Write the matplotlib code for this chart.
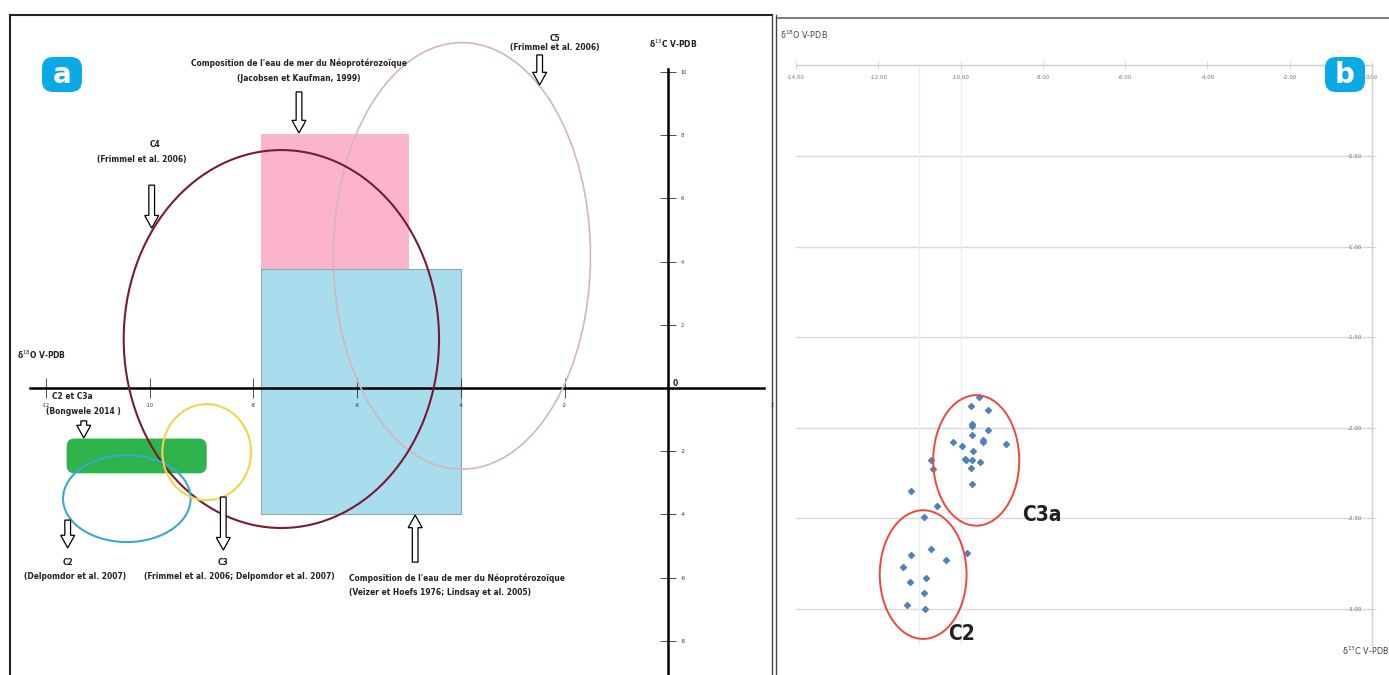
import matplotlib
matplotlib.use("Agg")
import matplotlib.pyplot as plt
from matplotlib.patches import Ellipse, Rectangle, FancyBboxPatch, FancyArrow
from matplotlib.lines import Line2D

plt.rcParams['font.family'] = ['DejaVu Sans']
plt.rcParams['font.stretch'] = 'condensed'

# ---- panel a : fields (delta18O, delta13C) ----
xticks_a = [-12, -10, -8, -6, -4, -2, 2]
yticks_a = [10, 8, 6, 4, 2, -2, -4, -6, -8]

# rectangles: x0, x1, y0, y1
seawater_jk = (-7.85, -5.0, 3.77, 8.05)   # Jacobsen et Kaufman 1999
seawater_vh = (-7.85, -4.0, -4.0, 3.77)   # Veizer et Hoefs 1976; Lindsay et al. 2005
bongwele = (-11.6, -8.9, -2.7, -1.6)      # C2 et C3a (Bongwele 2014)

# ellipses: centre x, centre y, width, height
c4 = (-7.46, 1.55, 6.08, 11.96)
c5 = (-3.98, 4.18, 4.96, 13.5)
c3 = (-8.9, -2.03, 1.71, 3.04)
c2 = (-10.44, -3.5, 2.46, 2.75)

# ---- panel b : samples ----
d18o = [-9.55, -9.75, -9.33, -9.73, -9.73, -9.34, -9.73, -9.46, -9.46, -10.19,
        -8.89, -9.96, -9.69, -9.89, -9.87, -9.72, -9.53, -10.72, -10.68, -9.75,
        -9.73, -11.21, -10.58, -10.88, -10.73, -11.21, -9.84, -10.36, -11.41,
        -11.23, -10.85, -10.88, -11.30, -10.87]
d13c = [-1.83, -1.88, -1.90, -1.98, -1.99, -2.01, -2.04, -2.07, -2.08, -2.08,
        -2.09, -2.10, -2.13, -2.17, -2.18, -2.18, -2.19, -2.18, -2.23, -2.22,
        -2.31, -2.35, -2.43, -2.49, -2.67, -2.70, -2.69, -2.73, -2.77,
        -2.85, -2.83, -2.91, -2.98, -3.00]
xticks_b = [-14, -12, -10, -8, -6, -4, -2, 0]
yticks_b = [-0.5, -1.0, -1.5, -2.0, -2.5, -3.0]
c3a_circle = (-9.62, -2.18, 2.09, 0.72)
c2_circle = (-10.91, -2.81, 2.11, 0.71)

W, H = 1389, 675
fig = plt.figure(figsize=(W / 100, H / 100), dpi=100)


def fx(px):
    return px / W


def fy(py):
    return 1 - py / H


# panel a axes : pixel = 670 + 52*x ; pixel = 388 - 31.6*y
ax = fig.add_axes([fx(10), 0, fx(772) - fx(10), fy(15)])
ax.set_xlim((10 - 670) / 52, (772 - 670) / 52)
ax.set_ylim(-(675 - 388) / 31.6, (388 - 15) / 31.6)
ax.patch.set_alpha(0)
for s in ['top', 'left']:
    ax.spines[s].set_visible(False)
ax.spines['bottom'].set_position(('data', 0))
ax.spines['bottom'].set_bounds(-12.3, 1.85)
ax.spines['bottom'].set_linewidth(1.8)
ax.spines['right'].set_position(('data', 0))
ax.spines['right'].set_bounds(-9.2, 10.1)
ax.spines['right'].set_linewidth(1.8)
ax.yaxis.tick_right()
ax.set_xticks(xticks_a)
ax.set_xticklabels([str(v) for v in xticks_a])
ax.set_yticks(yticks_a)
ax.set_yticklabels([str(v) for v in yticks_a])
ax.tick_params(axis='x', direction='inout', length=14, width=0.6, labelsize=4, pad=4, colors='#333333')
ax.tick_params(axis='y', direction='inout', length=12, width=0.6, labelsize=4, pad=3, colors='#333333')

x0, x1, y0, y1 = seawater_jk
ax.add_patch(Rectangle((x0, y0), x1 - x0, y1 - y0, fc='#fbb4cb', ec='none', zorder=1))
x0, x1, y0, y1 = seawater_vh
ax.add_patch(Rectangle((x0, y0), x1 - x0, y1 - y0, fc='#a7dded', ec='#8fa8b0', lw=0.8, zorder=1))
x0, x1, y0, y1 = bongwele
ax.add_patch(FancyBboxPatch((x0, y0), x1 - x0, y1 - y0,
                            boxstyle='round,pad=0,rounding_size=0.15',
                            mutation_aspect=1.65, fc='#2eb34d', ec='none', zorder=2))

for (cx, cy, w, h), col, lw in [(c5, '#d6b4bb', 1.2), (c4, '#7a1a33', 1.5),
                                (c2, '#38aad0', 1.5), (c3, '#f0d64e', 1.5)]:
    ax.add_patch(Ellipse((cx, cy), w, h, fill=False, ec=col, lw=lw, zorder=3))

# hollow arrows (x, y_start, y_end)
arrows = [(-2.48, 10.54, 9.59), (-7.12, 9.37, 8.07), (-9.96, 6.42, 5.06),
          (-11.27, -1.04, -1.58), (-11.58, -4.18, -5.06), (-8.58, -3.45, -5.13),
          (-4.88, -5.51, -4.02)]
for x, ys, ye in arrows:
    ax.add_patch(FancyArrow(x, ys, 0, ye - ys, width=0.11, head_width=0.27,
                            head_length=0.4, length_includes_head=True,
                            fc='white', ec='black', lw=0.9, zorder=4))

tkw = dict(fontsize=6, color='#222222', fontweight='semibold', zorder=5)
ax.text(-2.19, 11.05, 'C5', ha='center', va='center', **tkw)
ax.text(-2.19, 10.76, '(Frimmel et al. 2006)', ha='center', va='center', **tkw)
ax.text(-7.12, 10.28, "Composition de l'eau de mer du Néoprotérozoïque", ha='center', va='center', **tkw)
ax.text(-7.12, 9.81, '(Jacobsen et Kaufman, 1999)', ha='center', va='center', **tkw)
ax.text(-9.9, 7.69, 'C4', ha='center', va='center', **tkw)
ax.text(-10.15, 7.22, '(Frimmel et al. 2006)', ha='center', va='center', **tkw)
ax.text(-12.55, 1.04, 'δ$^{18}$O V-PDB', ha='left', va='center', **tkw)
ax.text(-11.5, -0.28, 'C2 et C3a', ha='center', va='center', **tkw)
ax.text(-11.27, -0.73, '(Bongwele 2014 )', ha='center', va='center', **tkw)
ax.text(-11.58, -5.51, 'C2', ha='center', va='center', **tkw)
ax.text(-11.44, -5.95, '(Delpomdor et al. 2007)', ha='center', va='center', **tkw)
ax.text(-8.58, -5.51, 'C3', ha='center', va='center', **tkw)
ax.text(-8.27, -5.95, '(Frimmel et al. 2006; Delpomdor et al. 2007)', ha='center', va='center', **tkw)
ax.text(-6.15, -6.01, "Composition de l'eau de mer du Néoprotérozoïque", ha='left', va='center', **tkw)
ax.text(-6.15, -6.46, '(Veizer et Hoefs 1976; Lindsay et al. 2005)', ha='left', va='center', **tkw)
ax.text(0.1, 10.89, 'δ$^{13}$C V-PDB', ha='center', va='center', **tkw)
ax.text(0.08, 0.15, '0', ha='left', va='center', **tkw)

# panel b axes : pixel = 1372 + 41.14*x ; pixel = 65.4 - 181.2*y
bx = fig.add_axes([fx(778), 0, 1 - fx(778), fy(18)])
bx.set_xlim((778 - 1372) / 41.14, (1389 - 1372) / 41.14)
bx.set_ylim(-(675 - 65.4) / 181.2, (65.4 - 18) / 181.2)
bx.patch.set_alpha(0)
for s in ['top', 'right']:
    bx.spines[s].set_visible(False)
bx.spines['bottom'].set_position(('data', 0))
bx.spines['bottom'].set_bounds(-14, 0)
bx.spines['left'].set_position(('data', 0))
bx.spines['left'].set_bounds(-3.2, 0)
for s in ['bottom', 'left']:
    bx.spines[s].set_color('#d0d0d0')
    bx.spines[s].set_linewidth(1.0)
bx.set_xticks(xticks_b)
bx.set_xticklabels(['%.2f' % v for v in xticks_b])
bx.set_yticks(yticks_b)
bx.set_yticklabels(['%.2f' % v for v in yticks_b])
bx.tick_params(axis='both', direction='inout', length=6, width=0.6, color='#d0d0d0',
               labelsize=4.5, labelcolor='#777777', pad=4)
bx.hlines(yticks_b, -14, 0, color='#d9d9d9', lw=1.0, zorder=0)
bx.vlines([-11, -10], -3.2, 0, color='#ececec', lw=0.9, zorder=0)

bx.scatter(d18o, d13c, marker='D', s=9, color='#4f81bd', zorder=3)
for cx, cy, w, h in [c3a_circle, c2_circle]:
    bx.add_patch(Ellipse((cx, cy), w, h, fill=False, ec='#f0463c', lw=1.4, zorder=4))
bx.text(-8.5, -2.48, 'C3a', fontsize=15, fontweight='semibold', ha='left', va='center', color='#222222')
bx.text(-10.3, -3.14, 'C2', fontsize=15, fontweight='semibold', ha='left', va='center', color='#222222')
bx.text(-14.4, 0.17, 'δ$^{18}$O V-PDB', fontsize=6.5, ha='left', va='center', color='#444444')
bx.text(-0.72, -3.23, 'δ$^{13}$C V-PDB', fontsize=6.5, ha='left', va='center', color='#444444')

# frames
fig.add_artist(Line2D([fx(10), fx(772)], [fy(15), fy(15)], color='#222222', lw=1.5))
fig.add_artist(Line2D([fx(10), fx(10)], [fy(15), 0], color='#222222', lw=1.5))
fig.add_artist(Line2D([fx(772), fx(772)], [fy(15), 0], color='#444444', lw=1.0))
fig.add_artist(Line2D([fx(776), fx(776)], [fy(15), 0], color='#444444', lw=1.0))
fig.add_artist(Line2D([fx(778), 1], [fy(18), fy(18)], color='#666666', lw=1.2))

# badges
for label, px in [('a', 42), ('b', 1325)]:
    fig.add_artist(FancyBboxPatch((fx(px), fy(92)), fx(40), 35 / H,
                                  boxstyle='round,pad=0,rounding_size=0.008',
                                  mutation_aspect=W / H, fc='#0aa9e8', ec='none'))
    fig.text(fx(px + 20), fy(75), label, ha='center', va='center', color='white',
             fontsize=20, fontweight='bold', family='DejaVu Sans', fontstretch='normal')

fig.savefig('out.png', dpi=100)
